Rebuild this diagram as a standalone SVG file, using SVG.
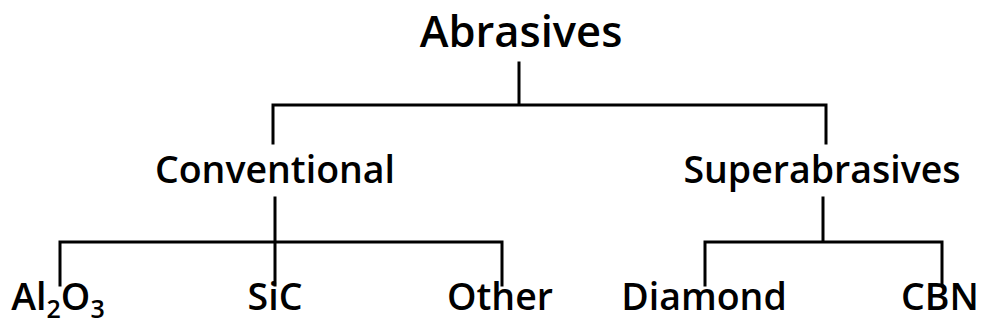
<svg xmlns="http://www.w3.org/2000/svg" width="982" height="329" viewBox="0 0 982 329">
<style>
text{font-family:"Open Sans","Noto Sans","Liberation Sans",sans-serif;font-weight:600;fill:#000;text-anchor:middle}
.l1{font-size:43.5px}
.l2{font-size:37.5px}
.c{stroke:#000;stroke-width:3;fill:none;stroke-linecap:square}
</style>
<rect width="982" height="329" fill="#fff"/>
<g id="connectors">
<path class="c" d="M519 63V105M273 143V105H826V143"/>
<path class="c" d="M275 198V285M60 285V242H502V285"/>
<path class="c" d="M823 198V242M705 285V242H942V285"/>
</g>
<g id="abrasives"><text class="l1" x="521" y="47">Abrasives</text></g>
<g id="conventional"><text class="l2" x="275" y="183">Conventional</text></g>
<g id="superabrasives"><text class="l2" x="822" y="183">Superabrasives</text></g>
<g id="al2o3"><text class="l2" x="58" y="310">Al<tspan font-size="25" dy="8">2</tspan><tspan dy="-8">O</tspan><tspan font-size="25" dy="8">3</tspan></text></g>
<g id="sic"><text class="l2" x="275" y="310">SiC</text></g>
<g id="other"><text class="l2" x="500" y="310">Other</text></g>
<g id="diamond"><text class="l2" x="704" y="310">Diamond</text></g>
<g id="cbn"><text class="l2" x="940" y="310">CBN</text></g>
</svg>
